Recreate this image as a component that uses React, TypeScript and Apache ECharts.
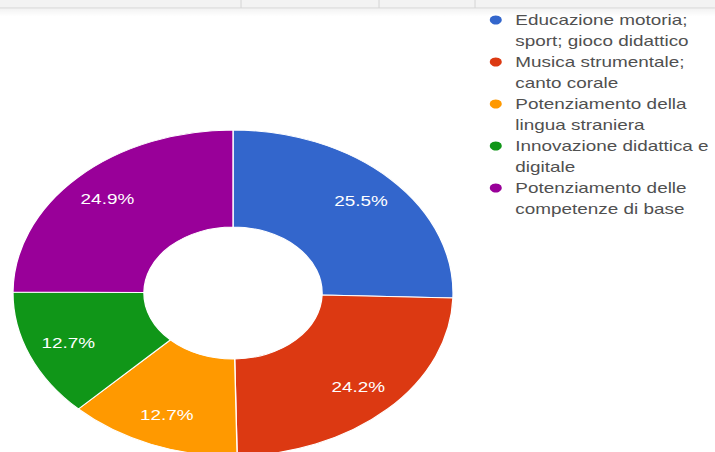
import React, { useEffect, useRef } from "react";
import * as echarts from "echarts";

const categories = [
  "Educazione motoria; sport; gioco didattico",
  "Musica strumentale; canto corale",
  "Potenziamento della lingua straniera",
  "Innovazione didattica e digitale",
  "Potenziamento delle competenze di base",
];
const legendLabels = [
  "Educazione motoria;\nsport; gioco didattico",
  "Musica strumentale;\ncanto corale",
  "Potenziamento della\nlingua straniera",
  "Innovazione didattica e\ndigitale",
  "Potenziamento delle\ncompetenze di base",
];
const percentages = [25.5, 24.2, 12.7, 12.7, 24.9];
const colors = ["#3366cc", "#dc3912", "#ff9900", "#109618", "#990099"];
const tabDividers = [241, 379, 475];

const S = 1.35;
const W = 715;
const H = 452;
const FONT = "'Liberation Sans', Arial, sans-serif";

export default function App() {
  const ref = useRef<HTMLDivElement>(null);
  useEffect(() => {
    const chart = echarts.init(ref.current!, null, { renderer: "svg" });
    const data = categories.map((name, i) => ({ name, value: percentages[i] }));
    const w = W / S;
    chart.setOption({
      animation: false,
      color: colors,
      graphic: [
        { type: "rect", shape: { x: 0, y: 0, width: w, height: 8 }, style: { fill: "#f3f3f3" }, silent: true },
        {
          type: "rect",
          shape: { x: 0, y: 8.5, width: w, height: 8 },
          style: {
            fill: new echarts.graphic.LinearGradient(0, 0, 0, 1, [
              { offset: 0, color: "rgba(0,0,0,0.05)" },
              { offset: 1, color: "rgba(0,0,0,0)" },
            ]),
          },
          silent: true,
        },
        { type: "line", shape: { x1: 0, y1: 8, x2: w, y2: 8 }, style: { stroke: "#d6d6d6", lineWidth: 1 }, silent: true },
        ...tabDividers.map((x) => ({
          type: "line",
          shape: { x1: x / S, y1: 0, x2: x / S, y2: 8 },
          style: { stroke: "#d6d6d6", lineWidth: 0.8 },
          silent: true,
        })),
      ],
      legend: {
        orient: "vertical",
        left: 487 / S,
        top: -11.5,
        padding: 0,
        itemGap: -21,
        itemWidth: 11,
        itemHeight: 11,
        icon: "circle",
        selectedMode: false,
        data: categories,
        formatter: (name: string) => "\u00a0\n" + legendLabels[categories.indexOf(name)],
        textStyle: {
          fontSize: 14,
          lineHeight: 21,
          color: "#505050",
          fontFamily: FONT,
          padding: [0, 0, 0, 4],
        },
      },
      series: [
        {
          type: "pie",
          center: [233 / S, 293],
          radius: [66, 163],
          startAngle: 90,
          clockwise: true,
          data,
          label: { show: false },
          labelLine: { show: false },
          itemStyle: { borderColor: "#fff", borderWidth: 1 },
          emphasis: { disabled: true },
          silent: true,
        },
        {
          type: "pie",
          center: [233 / S, 293],
          radius: [95, 163],
          startAngle: 90,
          clockwise: true,
          data,
          z: 5,
          silent: true,
          legendHoverLink: false,
          itemStyle: { color: "rgba(0,0,0,0)", borderWidth: 0 },
          emphasis: { disabled: true },
          labelLine: { show: false },
          label: {
            show: true,
            position: "inside",
            color: "#fff",
            fontSize: 14,
            fontFamily: FONT,
            formatter: (p: any) => p.value.toFixed(1) + "%",
          },
        },
      ],
    });
    return () => chart.dispose();
  }, []);
  return (
    <div style={{ position: "absolute", left: 0, top: 0, width: W, height: H, overflow: "hidden", background: "#fff" }}>
      <div ref={ref} style={{ width: W / S, height: H, transform: `scaleX(${S})`, transformOrigin: "0 0" }} />
    </div>
  );
}
